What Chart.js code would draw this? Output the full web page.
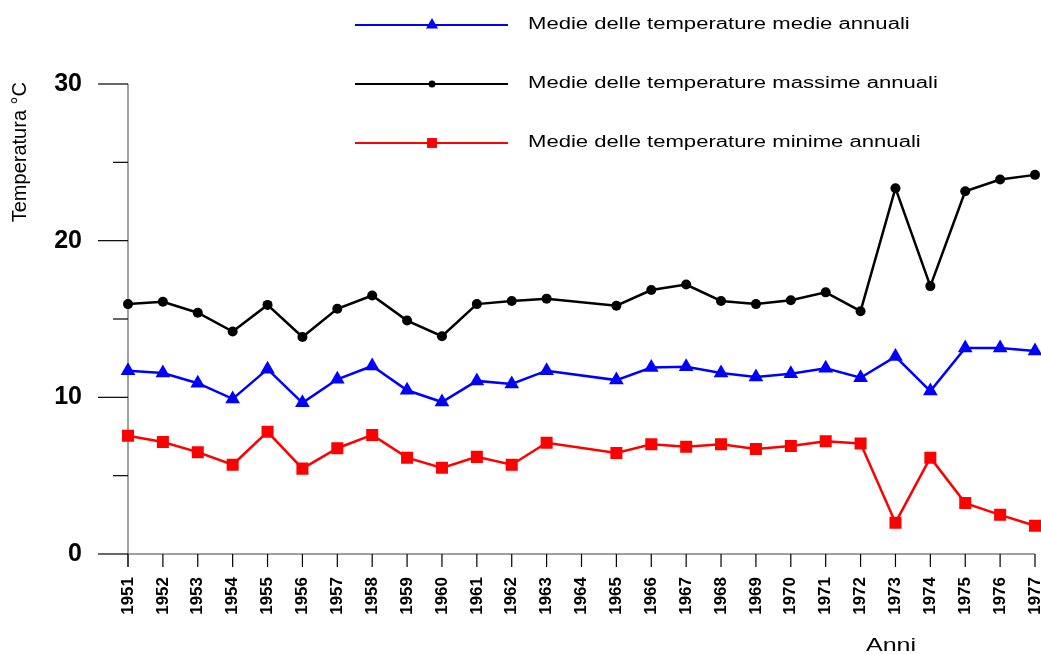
<!DOCTYPE html>
<html>
<head>
<meta charset="utf-8">
<title>Temperature annuali</title>
<script src="https://cdn.jsdelivr.net/npm/chart.js@4.4.1/dist/chart.umd.min.js"></script>
<style>
  html, body { margin: 0; padding: 0; background: #fff; }
  canvas { display: block; }
</style>
</head>
<body>
<canvas id="chart" width="1041" height="654"></canvas>
<script>
// anni (il 1964 non ha dati)
const anni = ["1951", "1952", "1953", "1954", "1955", "1956", "1957", "1958", "1959", "1960",
  "1961", "1962", "1963", "1964", "1965", "1966", "1967", "1968", "1969", "1970",
  "1971", "1972", "1973", "1974", "1975", "1976", "1977"];

const tempMedie = [11.7, 11.55, 10.9, 9.9, 11.8, 9.65, 11.15, 12.0, 10.45, 9.7,
  11.05, 10.85, 11.7, null, 11.1, 11.9, 11.95, 11.55, 11.3, 11.5,
  11.85, 11.25, 12.6, 10.4, 13.15, 13.15, 12.95];

const tempMassime = [15.95, 16.1, 15.4, 14.2, 15.9, 13.85, 15.65, 16.5, 14.9, 13.9,
  15.95, 16.15, 16.3, null, 15.85, 16.85, 17.2, 16.15, 15.95, 16.2,
  16.7, 15.5, 23.35, 17.1, 23.15, 23.9, 24.2];

const tempMinime = [7.55, 7.15, 6.5, 5.7, 7.8, 5.45, 6.75, 7.6, 6.15, 5.5,
  6.2, 5.7, 7.1, null, 6.45, 7.0, 6.85, 7.0, 6.7, 6.9,
  7.2, 7.05, 2.0, 6.15, 3.25, 2.5, 1.8];

const yTicks = [0, 10, 20, 30];

const FONT = "'Liberation Sans', Arial, sans-serif";

function line(ctx, x1, y1, x2, y2) {
  ctx.beginPath();
  ctx.moveTo(x1, y1);
  ctx.lineTo(x2, y2);
  ctx.stroke();
}

// testo allargato in orizzontale come nell'originale
function stretchedText(ctx, text, x, y, sx) {
  ctx.save();
  ctx.translate(x, y);
  ctx.scale(sx, 1);
  ctx.fillText(text, 0, 0);
  ctx.restore();
}

const axisDecor = {
  id: "axisDecor",
  beforeDatasetsDraw(chart) {
    const { ctx, chartArea, scales: { x, y } } = chart;
    ctx.save();

    ctx.strokeStyle = "#808080";
    ctx.lineWidth = 1.5;
    line(ctx, chartArea.left, y.getPixelForValue(30), chartArea.left, chartArea.bottom + 13);
    line(ctx, chartArea.left, chartArea.bottom, chartArea.right, chartArea.bottom);

    ctx.strokeStyle = "#000";
    ctx.lineWidth = 1.2;
    y.ticks.forEach((t) => {
      const py = y.getPixelForValue(t.value);
      const len = yTicks.includes(t.value) ? 30 : 15;
      line(ctx, chartArea.left - len, py, chartArea.left, py);
    });
    x.ticks.forEach((t, i) => {
      const px = x.getPixelForTick(i);
      line(ctx, px, chartArea.bottom, px, chartArea.bottom + 13);
    });

    // titoli assi
    ctx.fillStyle = "#000";
    ctx.font = `20px ${FONT}`;
    ctx.save();
    ctx.translate(20, 82);
    ctx.rotate(-Math.PI / 2);
    ctx.textAlign = "right";
    ctx.textBaseline = "middle";
    ctx.fillText("Temperatura °C", 0, 0);
    ctx.restore();

    ctx.font = `18px ${FONT}`;
    ctx.textAlign = "left";
    ctx.textBaseline = "alphabetic";
    stretchedText(ctx, "Anni", 866, 651, 1.39);

    ctx.restore();
  },
};

const legendRows = [25, 84, 143];

const customLegend = {
  id: "customLegend",
  afterDraw(chart) {
    const { ctx } = chart;
    ctx.save();
    chart.data.datasets.forEach((ds, i) => {
      const ly = legendRows[i];
      ctx.strokeStyle = ds.borderColor;
      ctx.lineWidth = 2;
      line(ctx, 355, ly, 508, ly);
      ctx.fillStyle = ds.borderColor;
      Chart.helpers.drawPoint(ctx, {
        pointStyle: ds.pointStyle,
        radius: ds.legendRadius,
        borderWidth: 0,
      }, 432, ly);
      ctx.fillStyle = "#000";
      ctx.font = `16px ${FONT}`;
      ctx.textBaseline = "middle";
      stretchedText(ctx, ds.label, 528, ly, 1.38);
    });
    ctx.restore();
  },
};

const dataset = (label, data, color, style, radius, legendRadius) => ({
  label,
  data,
  borderColor: color,
  backgroundColor: color,
  borderWidth: 2.5,
  pointStyle: style,
  pointRadius: radius,
  pointHoverRadius: radius,
  pointBorderWidth: 0,
  legendRadius,
  tension: 0,
  spanGaps: true,
});

new Chart(document.getElementById("chart"), {
  type: "line",
  data: {
    labels: anni,
    datasets: [
      dataset("Medie delle temperature medie annuali", tempMedie, "#0000ff", "triangle", 8.5, 7),
      dataset("Medie delle temperature massime annuali", tempMassime, "#000000", "circle", 5, 3.5),
      dataset("Medie delle temperature minime annuali", tempMinime, "#ff0000", "rect", 8.5, 7),
    ],
  },
  options: {
    responsive: false,
    devicePixelRatio: 1,
    animation: false,
    layout: { autoPadding: false, padding: { top: 84, right: 6, left: 0, bottom: 0 } },
    plugins: {
      legend: { display: false },
      tooltip: { enabled: false },
      title: { display: false },
    },
    scales: {
      x: {
        type: "category",
        offset: false,
        grid: { display: false, drawTicks: false },
        border: { display: false },
        ticks: {
          autoSkip: false,
          minRotation: 90,
          maxRotation: 90,
          padding: 23,
          color: "#000",
          font: { family: FONT, size: 17, weight: "bold" },
        },
        afterFit(scale) {
          scale.height = 100;
          scale.paddingLeft = 0;
          scale.paddingRight = 0;
        },
      },
      y: {
        min: 0,
        max: 30,
        grid: { display: false, drawTicks: false },
        border: { display: false },
        ticks: {
          stepSize: 5,
          padding: 46,
          color: "#000",
          font: { family: FONT, size: 25, weight: "bold" },
          callback: (v) => (yTicks.includes(v) ? v : ""),
        },
        afterFit(scale) {
          scale.width = 128;
          scale.paddingTop = 0;
          scale.paddingBottom = 0;
        },
      },
    },
  },
  plugins: [axisDecor, customLegend],
});
</script>
</body>
</html>
